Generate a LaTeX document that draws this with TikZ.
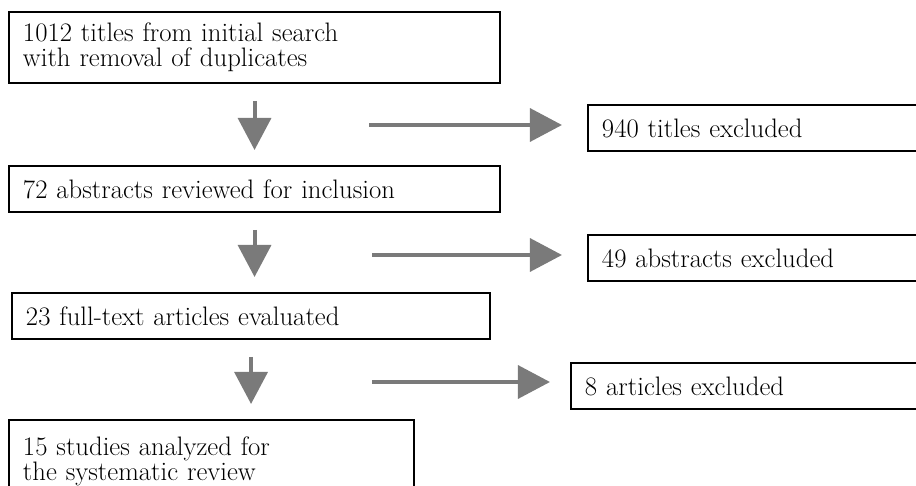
\documentclass[tikz,border=0pt]{standalone}
\usepackage{fontspec}
\usetikzlibrary{arrows.meta}
\definecolor{flowgray}{RGB}{122,122,122}
\newcommand{\stagefont}{\fontsize{19pt}{17.8pt}\selectfont\spaceskip=0.42em plus 0.1em minus 0.05em\relax}
\tikzset{
  stage/.style={draw=black, line width=1.4pt, anchor=north west, align=left,
    inner xsep=0.35cm, inner ysep=0pt, font=\stagefont},
  flow/.style={draw=flowgray, line width=0.1cm, -{Triangle[length=0.8cm,width=0.82cm]}},
}
\begin{document}
\begin{tikzpicture}[x=0.025cm, y=-0.025cm]
  \clip (0,0) rectangle (916,486);
  % main column
  \node[stage, text width=11.575cm, minimum height=1.775cm] (titles) at (8,11)
    {1012 titles from initial search\\with removal of duplicates};
  \node[stage, text width=11.575cm, minimum height=1.15cm] (abstracts) at (8,165)
    {72 abstracts reviewed for inclusion};
  \node[stage, text width=11.25cm, minimum height=1.15cm] (fulltext) at (11,292)
    {23 full-text articles evaluated};
  \node[stage, text width=9.425cm, minimum height=2.05cm] (studies) at (8,419)
    {15 studies analyzed for\\the systematic review};
  % excluded
  \node[stage, text width=8cm, minimum height=1.15cm] (extitles) at (587,104)
    {940 titles excluded};
  \node[stage, text width=8cm, minimum height=1.15cm] (exabstracts) at (587,234)
    {49 abstracts excluded};
  \node[stage, text width=8cm, minimum height=1.15cm] (exarticles) at (570,362)
    {8 articles excluded};
  \coordinate (s1) at (369,125);
  \coordinate (s2) at (372,255);
  \coordinate (s3) at (372,382);
  % arrows
  \draw[flow, shorten <=0.425cm, shorten >=0.375cm] (titles.south) -- (abstracts.north);
  \draw[flow, shorten <=0.425cm, shorten >=0.375cm] (abstracts.south) -- (abstracts.south |- fulltext.north);
  \draw[flow, shorten <=0.425cm, shorten >=0.375cm] (fulltext.south) -- (fulltext.south |- studies.north);
  \draw[flow, shorten >=0.625cm] (s1) -- (s1 -| extitles.west);
  \draw[flow, shorten >=0.625cm] (s2) -- (s2 -| exabstracts.west);
  \draw[flow, shorten >=0.5cm] (s3) -- (s3 -| exarticles.west);
\end{tikzpicture}
\end{document}
